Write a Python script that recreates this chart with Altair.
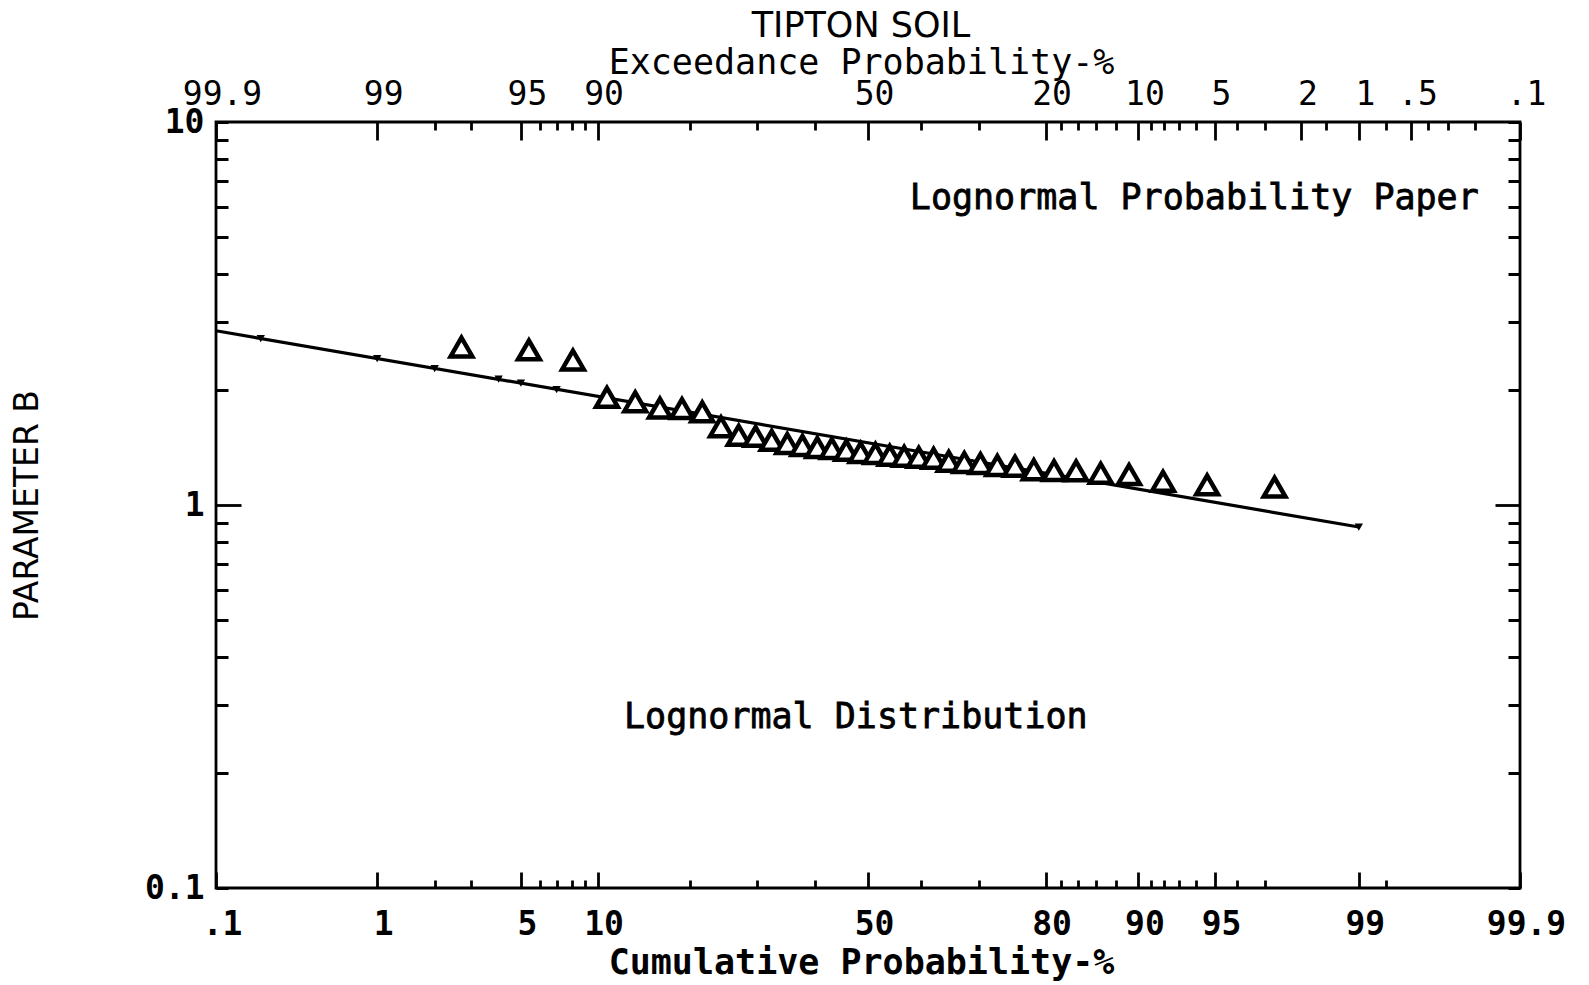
import json
from statistics import NormalDist
import altair as alt
import pandas as pd

# ---- data ----
cum_pct = [2.7, 5.4, 8.1, 10.8, 13.5, 16.2, 18.9, 21.6, 24.3, 27.0, 29.7, 32.4,
           35.1, 37.8, 40.5, 43.2, 45.9, 48.6, 51.4, 54.1, 56.8, 59.5, 62.2, 64.9,
           67.6, 70.3, 73.0, 75.7, 78.4, 81.1, 83.8, 86.5, 89.2, 91.9, 94.6, 97.3]
param_b = [2.585, 2.54, 2.39, 1.91, 1.86, 1.79, 1.785, 1.75, 1.60, 1.52, 1.51, 1.474,
           1.447, 1.43, 1.413, 1.404, 1.388, 1.371, 1.363, 1.347, 1.339, 1.331, 1.323, 1.299,
           1.291, 1.283, 1.268, 1.262, 1.236, 1.229, 1.227, 1.21, 1.201, 1.153, 1.128, 1.113]

fit_pct = [0.1, 99.0]
fit_b = [2.85, 0.876]

dot_pct = [0.2, 1.0, 2.0, 4.0, 5.0, 7.0, 99.0]
dot_b = [2.72, 2.41, 2.27, 2.13, 2.08, 2.00, 0.876]

ann_pct = [93.9, 47.7]
ann_b = [6.33, 0.2795]
ann_text = ["Lognormal Probability Paper", "Lognormal Distribution"]

bottom_major = [0.1, 1, 5, 10, 50, 80, 90, 95, 99, 99.9]
bottom_labels = [".1", "1", "5", "10", "50", "80", "90", "95", "99", "99.9"]
bottom_minor = [2, 3, 6, 7, 8, 9, 20, 30, 40, 60, 70, 82, 84, 86, 88, 91, 92, 93, 94, 96, 97, 99.3]

top_major = [0.1, 1, 5, 10, 50, 80, 90, 95, 98, 99, 99.5, 99.9]
top_labels = ["99.9", "99", "95", "90", "50", "20", "10", "5", "2", "1", ".5", ".1"]
top_minor = [2, 3, 6, 7, 8, 9, 20, 30, 40, 60, 70, 82, 84, 86, 88, 91, 92, 93, 94,
             96, 97, 98.5, 99.3, 99.6, 99.7, 99.8]

y_major = [1]
y_ticks = [0.1, 0.2, 0.3, 0.4, 0.5, 0.6, 0.7, 0.8, 0.9, 1, 2, 3, 4, 5, 6, 7, 8, 9, 10]
y_labels = {0.1: "0.1", 1: "1", 10: "10"}

# ---- probability (probit) transform ----
nd = NormalDist()


def probit(p):
    return nd.inv_cdf(p / 100.0)


pts = pd.DataFrame({"cum": cum_pct, "B": param_b})
pts["z"] = [probit(p) for p in cum_pct]
fit = pd.DataFrame({"cum": fit_pct, "B": fit_b})
fit["z"] = [probit(p) for p in fit_pct]
dots = pd.DataFrame({"cum": dot_pct, "B": dot_b})
dots["z"] = [probit(p) for p in dot_pct]
ann = pd.DataFrame({"cum": ann_pct, "B": ann_b, "text": ann_text})
ann["z"] = [probit(p) for p in ann_pct]

MONO = "DejaVu Sans Mono"
SANS = "DejaVu Sans"

xscale = alt.Scale(domain=[probit(0.1), probit(99.9)], nice=False, zero=False)
yscale = alt.Scale(type="log", domain=[0.1, 10], nice=False)


def tick_dash(major_vals, L, S):
    return {
        "condition": {"test": f"indexof({json.dumps(major_vals)}, datum.value) >= 0",
                      "value": [100, 0]},
        "value": [0, L - S, S, 100],
    }


def x_axis(orient, majors, labels, minors, L, S, weight, pad, title, title_pad, title_weight):
    vmaj = [probit(p) for p in majors]
    vmin = [probit(p) for p in minors]
    vals = vmaj + vmin
    labs = labels + [""] * len(vmin)
    return alt.Axis(
        orient=orient, values=vals,
        labelExpr=f"{json.dumps(labs)}[indexof({json.dumps(vals)}, datum.value)]",
        offset=-L, tickSize=L, tickWidth=2.8, tickColor="black",
        tickDash=tick_dash(vmaj, L, S),
        domain=False, grid=False,
        labelFont=MONO, labelFontSize=33, labelFontWeight=weight, labelColor="black",
        labelPadding=pad, labelOverlap=False, labelFlush=False, labelOffset=6,
        title=title, titleFont=MONO, titleFontSize=35, titleFontWeight=title_weight,
        titleColor="black", titlePadding=title_pad, titleX=652 - 7,
    )


def y_axis(orient, show_labels, title):
    L, S = 25, 12
    labs = [y_labels.get(v, "") if show_labels else "" for v in y_ticks]
    if title:
        kw = dict(title=title, titleFont=SANS, titleFontSize=33, titleFontWeight="normal",
                  titleColor="black", titlePadding=100)
    else:
        kw = dict(title=None)
    return alt.Axis(
        orient=orient, values=y_ticks,
        labelExpr=f"{json.dumps(labs)}[indexof({json.dumps(y_ticks)}, datum.value)]",
        offset=-L, tickSize=L, tickWidth=2.8, tickColor="black",
        tickDash=tick_dash(y_major, L, S),
        domain=False, grid=False,
        labelFont=MONO, labelFontSize=33, labelFontWeight="bold", labelColor="black",
        labelPadding=12, labelOverlap=False, labelFlush=False,
        **kw,
    )


bottom_axis = x_axis("bottom", bottom_major, bottom_labels, bottom_minor, 16, 8,
                     "bold", 20, "Cumulative Probability-%", 4, "bold")
top_axis = x_axis("top", top_major, top_labels, top_minor, 18, 8,
                  "normal", 11, "Exceedance Probability-%", -2, "normal")

tri = alt.Chart(pts).mark_point(
    shape="triangle-up", size=470, filled=True, fill="white", stroke="black",
    strokeWidth=4.5, opacity=1,
).encode(
    x=alt.X("z:Q", scale=xscale, axis=bottom_axis),
    y=alt.Y("B:Q", scale=yscale, axis=y_axis("left", True, "PARAMETER B")),
)

line = alt.Chart(fit).mark_line(color="black", strokeWidth=3.2).encode(
    x=alt.X("z:Q", scale=xscale, axis=top_axis),
    y=alt.Y("B:Q", scale=yscale, axis=y_axis("right", False, None)),
)

dot = alt.Chart(dots).mark_point(
    shape="triangle-down", size=70, filled=True, color="black", opacity=1,
).encode(
    x=alt.X("z:Q", scale=xscale, axis=None),
    y=alt.Y("B:Q", scale=yscale, axis=None),
)

txt = alt.Chart(ann).mark_text(
    font=MONO, fontSize=35, fontWeight="normal", color="black", align="center",
    baseline="middle", stroke="black", strokeWidth=0.8,
).encode(
    x=alt.X("z:Q", scale=xscale, axis=None),
    y=alt.Y("B:Q", scale=yscale, axis=None),
    text="text:N",
)

chart = alt.layer(line, dot, tri, txt).resolve_axis(
    x="independent", y="independent"
).properties(
    width=1304, height=766,
    title=alt.TitleParams("TIPTON SOIL", font=SANS, fontSize=35, fontWeight="normal",
                          anchor="middle", color="black", offset=1, dx=-7),
    autosize=alt.AutoSizeParams(type="none"),
    padding={"left": 216, "top": 122, "right": 69, "bottom": 97},
    background="white",
).configure_view(stroke="black", strokeWidth=2.8)

chart.save("out.html", embed_options={"renderer": "svg", "actions": False})
